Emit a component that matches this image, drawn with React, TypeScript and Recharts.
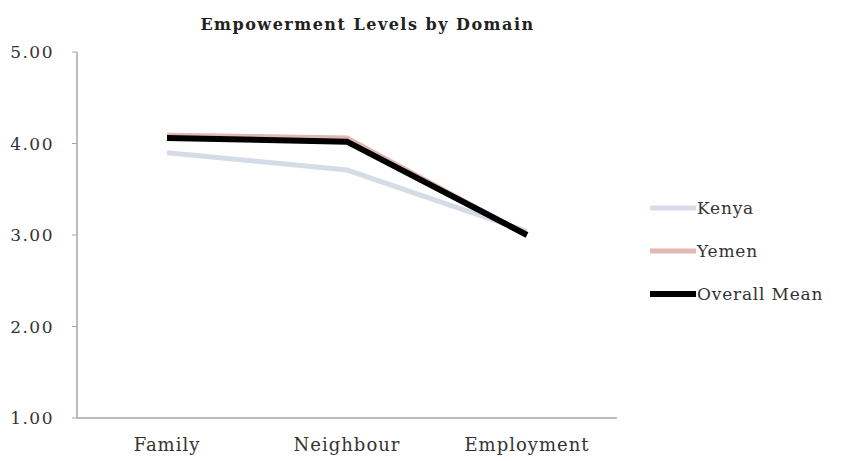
import React from "react"
import { LineChart, Line, XAxis, YAxis } from "recharts"

const domains = ["Family", "Neighbour", "Employment"]
const kenya = [3.9, 3.71, 3.04]
const yemen = [4.09, 4.06, 3.0]
const overallMean = [4.06, 4.02, 3.0]
const yTicks = [1, 2, 3, 4, 5]

const KENYA = "#d5dce8"
const YEMEN = "#e2b7b2"
const MEAN = "#000000"
const AXIS = "#a6a6a6"
const TEXT = "#333333"
const FONT = "'DejaVu Serif', 'Liberation Serif', serif"

const series = [
  { key: "Kenya", color: KENYA, width: 5 },
  { key: "Yemen", color: YEMEN, width: 5 },
  { key: "Overall Mean", color: MEAN, width: 6 },
]

const data = domains.map((d, i) => ({
  domain: d,
  idx: i,
  Kenya: kenya[i],
  Yemen: yemen[i],
  "Overall Mean": overallMean[i],
}))

function SeriesLegend() {
  return (
    <div
      style={{
        position: "absolute",
        left: 650,
        top: 186,
        fontFamily: FONT,
        fontSize: 17,
        color: TEXT,
        letterSpacing: 0.8,
        whiteSpace: "nowrap",
      }}
    >
      {series.map((s) => (
        <div key={s.key} style={{ display: "flex", alignItems: "center", height: 43 }}>
          <svg width={46} height={10} style={{ marginRight: 1 }}>
            <line x1={0} x2={46} y1={5} y2={5} stroke={s.color} strokeWidth={s.width} />
          </svg>
          <span>{s.key}</span>
        </div>
      ))}
    </div>
  )
}

export default function App() {
  return (
    <div style={{ position: "relative", width: 845, height: 461, background: "#fff", overflow: "hidden" }}>
      <style>{`body{margin:0}`}</style>
      <div
        style={{
          position: "absolute",
          top: 15,
          left: 0,
          width: 735,
          textAlign: "center",
          fontFamily: FONT,
          fontWeight: "bold",
          fontSize: 16,
          letterSpacing: 1.5,
          color: "#222",
        }}
      >
        Empowerment Levels by Domain
      </div>
      <LineChart
        width={845}
        height={461}
        data={data}
        margin={{ top: 52, right: 228, left: 0, bottom: 0 }}
      >
        {/* short marks between the categories */}
        <XAxis
          xAxisId="sep"
          type="number"
          dataKey="idx"
          domain={[-0.5, 2.5]}
          ticks={[0.5, 1.5]}
          tick={false}
          axisLine={false}
          tickLine={{ stroke: AXIS }}
          tickSize={5}
          height={0}
        />
        <XAxis
          dataKey="domain"
          padding={{ left: 90, right: 90 }}
          axisLine={{ stroke: AXIS, strokeWidth: 1.5 }}
          tickLine={false}
          tickMargin={14}
          height={43}
          tick={{ fontFamily: FONT, fontSize: 18, fill: TEXT, letterSpacing: 1 }}
        />
        <YAxis
          domain={[1, 5]}
          ticks={yTicks}
          width={77}
          tickFormatter={(v: number) => v.toFixed(2)}
          axisLine={{ stroke: AXIS, strokeWidth: 1.5 }}
          tickLine={{ stroke: AXIS }}
          tickSize={5}
          tickMargin={18}
          tick={{ fontFamily: FONT, fontSize: 17, fill: TEXT, letterSpacing: 1.5 }}
        />
        {series.map((s) => (
          <Line
            key={s.key}
            dataKey={s.key}
            stroke={s.color}
            strokeWidth={s.width}
            dot={false}
            isAnimationActive={false}
          />
        ))}
      </LineChart>
      <SeriesLegend />
    </div>
  )
}
